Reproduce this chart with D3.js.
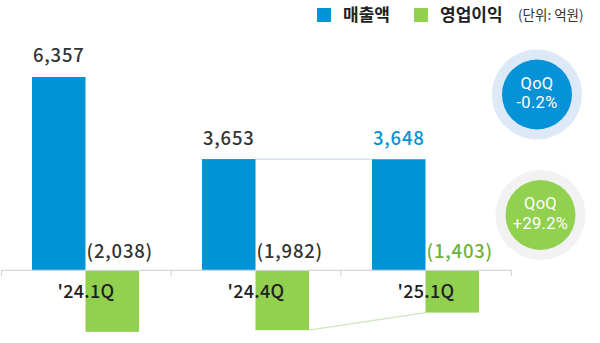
<!DOCTYPE html>
<html>
<head>
<meta charset="utf-8">
<script src="https://cdn.jsdelivr.net/npm/d3@7/dist/d3.min.js"></script>
<style>
  html, body { margin: 0; padding: 0; background: #fff; }
  svg { display: block; }
  text { font-family: "Noto Sans CJK KR", "Noto Sans", sans-serif; }
</style>
</head>
<body>
<svg id="chart" width="600" height="343"></svg>
<script>
// Quarterly revenue (매출액) and operating profit (영업이익), unit: 억원
const quarters = ["'24.1Q", "'24.4Q", "'25.1Q"];
const revenue = [6357, 3653, 3648];
const operatingProfit = [-2038, -1982, -1403];
const seriesNames = ["매출액", "영업이익"];
const qoqTitles = ["QoQ", "QoQ"];
const qoqValues = ["-0.2%", "+29.2%"];
const unitLabel = "(단위: 억원)";

const BLUE = "#0093d6";
const GREEN = "#92d050";
const fmt = d3.format(",");
const fmtSigned = v => v < 0 ? "(" + fmt(-v) + ")" : fmt(v);

const svg = d3.select("#chart");

const x = d3.scaleBand().domain(quarters).range([1, 511]).paddingInner(0).paddingOuter(0);
const x1 = d3.scaleBand().domain(["rev", "op"]).range([31, 138]).padding(0);
const y = d3.scaleLinear().domain([-2300, 6600]).range([339.8, 69.6]);

const rows = quarters.map((q, i) => ({ q, rev: revenue[i], op: operatingProfit[i], i }));
const last = rows.length - 1;

// connector lines between the last two quarters
const g = svg.append("g");
const prev = rows[last - 1], cur = rows[last];
g.append("line")
  .attr("x1", x(prev.q) + x1("rev") + x1.bandwidth()).attr("y1", y(prev.rev))
  .attr("x2", x(cur.q) + x1("rev")).attr("y2", y(cur.rev))
  .attr("stroke", "#c9def0").attr("stroke-width", 1.2);
g.append("line")
  .attr("x1", x(prev.q) + x1("op") + x1.bandwidth()).attr("y1", y(prev.op))
  .attr("x2", x(cur.q) + x1("op")).attr("y2", y(cur.op))
  .attr("stroke", "#cfe6bd").attr("stroke-width", 1.2);

// revenue bars
g.selectAll("rect.rev").data(rows).join("rect")
  .attr("class", "rev")
  .attr("x", d => x(d.q) + x1("rev"))
  .attr("y", d => y(d.rev))
  .attr("width", x1.bandwidth())
  .attr("height", d => y(0) - y(d.rev))
  .attr("fill", BLUE);

// operating profit bars (negative, below the baseline)
g.selectAll("rect.op").data(rows).join("rect")
  .attr("class", "op")
  .attr("x", d => x(d.q) + x1("op"))
  .attr("y", d => y(Math.max(0, d.op)))
  .attr("width", x1.bandwidth())
  .attr("height", d => Math.abs(y(d.op) - y(0)))
  .attr("fill", GREEN);

// baseline axis with category labels
const axis = d3.axisBottom(x).tickSizeInner(0).tickSizeOuter(6).tickPadding(15);
const ax = svg.append("g").attr("transform", `translate(0,${y(0)})`).call(axis);
ax.select(".domain").attr("stroke", "#d6d6d6").attr("stroke-width", 1.2);
ax.selectAll(".tick text")
  .attr("fill", "#1e1e1e")
  .style("font-family", "'Noto Sans CJK KR', sans-serif")
  .style("font-size", "18px")
  .style("font-weight", 500)
  .style("letter-spacing", "0.3px");
// boundary ticks between quarters
ax.selectAll("line.sep").data(quarters.slice(1)).join("line")
  .attr("class", "sep")
  .attr("x1", d => x(d)).attr("x2", d => x(d))
  .attr("y1", 0).attr("y2", 6)
  .attr("stroke", "#d6d6d6").attr("stroke-width", 1.2);

// value labels
g.selectAll("text.revLab").data(rows).join("text")
  .attr("class", "revLab")
  .attr("x", d => x(d.q) + x1("rev") + x1.bandwidth() / 2)
  .attr("y", d => y(d.rev) - 14.5)
  .attr("text-anchor", "middle")
  .attr("fill", d => d.i === last ? BLUE : "#333")
  .style("font-size", "18.5px").style("font-weight", 500).style("letter-spacing", "0.8px")
  .text(d => fmtSigned(d.rev));

g.selectAll("text.opLab").data(rows).join("text")
  .attr("class", "opLab")
  .attr("x", d => x(d.q) + x1("op") + 1)
  .attr("y", y(0) - 12)
  .attr("text-anchor", "start")
  .attr("fill", d => d.i === last ? "#6cb23c" : "#333")
  .style("font-size", "18.5px").style("font-weight", 500).style("letter-spacing", "0.8px")
  .text(d => fmtSigned(d.op));

// legend
const legend = svg.append("g");
const legendX = [317, 414];
const legendColors = [BLUE, GREEN];
seriesNames.forEach((name, i) => {
  legend.append("rect").attr("x", legendX[i]).attr("y", 8).attr("width", 14).attr("height", 14)
    .attr("fill", legendColors[i]);
  legend.append("text").attr("x", legendX[i] + 26).attr("y", 21)
    .attr("fill", "#222")
    .style("font-size", "17px").style("font-weight", 700)
    .text(name);
});
legend.append("text").attr("x", 518).attr("y", 20)
  .attr("fill", "#333")
  .style("font-size", "13.5px")
  .text(unitLabel);

// QoQ badges
const badges = [
  { cx: 537, cy: 94.5, fill: "#0592d6", ring: "#dde9f6" },
  { cx: 540.5, cy: 215, fill: GREEN, ring: "#f2f2f2" }
];
badges.forEach((b, i) => {
  svg.append("circle").attr("cx", b.cx).attr("cy", b.cy).attr("r", 45).attr("fill", b.ring);
  svg.append("circle").attr("cx", b.cx).attr("cy", b.cy).attr("r", 35).attr("fill", b.fill);
  svg.append("text").attr("x", b.cx).attr("y", b.cy - 6)
    .attr("text-anchor", "middle").attr("fill", "#fff")
    .style("font-family", "Roboto, sans-serif")
    .style("font-size", "16.5px").style("font-weight", 400).style("letter-spacing", "0.3px")
    .text(qoqTitles[i]);
  svg.append("text").attr("x", b.cx).attr("y", b.cy + 13.5)
    .attr("text-anchor", "middle").attr("fill", "#fff")
    .style("font-family", "Roboto, sans-serif")
    .style("font-size", "16.5px").style("font-weight", 400).style("letter-spacing", "0.3px")
    .text(qoqValues[i]);
});
</script>
</body>
</html>
